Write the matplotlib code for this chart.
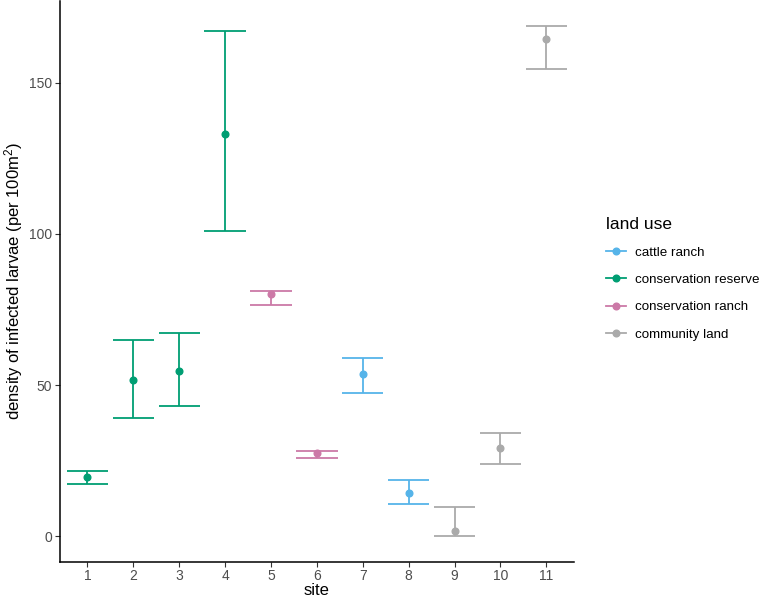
import matplotlib.pyplot as plt
from matplotlib.lines import Line2D

plt.rcParams['font.family'] = ['Liberation Sans', 'DejaVu Sans']
plt.rcParams['mathtext.fontset'] = 'custom'
plt.rcParams['mathtext.rm'] = 'Liberation Sans'
plt.rcParams['mathtext.it'] = 'Liberation Sans:italic'

# data
sites = [1, 2, 3, 4, 5, 6, 7, 8, 9, 10, 11]
land_use = ['conservation reserve', 'conservation reserve', 'conservation reserve',
            'conservation reserve', 'conservation ranch', 'conservation ranch',
            'cattle ranch', 'cattle ranch', 'community land', 'community land',
            'community land']
density = [19.6, 51.5, 54.8, 133.0, 80.2, 27.5, 53.7, 14.3, 1.7, 29.0, 164.4]
upper = [21.5, 65.0, 67.1, 167.2, 81.2, 28.3, 59.0, 18.6, 9.7, 34.0, 168.7]
lower = [17.3, 39.0, 43.0, 100.9, 76.6, 26.0, 47.2, 10.5, 0.1, 23.9, 154.6]

groups = ['cattle ranch', 'conservation reserve', 'conservation ranch', 'community land']
colors = {'cattle ranch': '#56B4E9',
          'conservation reserve': '#009E73',
          'conservation ranch': '#CC79A7',
          'community land': '#AAAAAA'}

fig = plt.figure(figsize=(7.63, 5.99), dpi=100)
ax = fig.add_axes([0.0786, 0.0623, 0.752 - 0.0786, 0.999 - 0.0623])

for s, g, d, hi, lo in zip(sites, land_use, density, upper, lower):
    c = colors[g]
    ax.vlines(s, lo, hi, color=c, lw=1.3)
    ax.hlines([lo, hi], s - 0.45, s + 0.45, color=c, lw=1.3)
    ax.plot(s, d, 'o', color=c, ms=4.8, zorder=3)

ax.set_xlim(0.4, 11.6)
ax.set_ylim(-8.45, 177.2)
ax.set_xticks(sites)
ax.set_yticks([0, 50, 100, 150])

for side in ['top', 'right']:
    ax.spines[side].set_visible(False)
for side in ['left', 'bottom']:
    ax.spines[side].set_linewidth(1.1)
    ax.spines[side].set_color('black')
ax.tick_params(length=3.5, width=0.8, color='#333333', labelcolor='#4D4D4D',
               labelsize=10, pad=2)

ax.set_xlabel('site', fontsize=12, labelpad=0)
ax.set_ylabel(r'density of infected larvae (per 100m$^{2}$)', fontsize=12, labelpad=3)

handles = [Line2D([0], [0], color=colors[g], lw=1.3, marker='o', ms=4.8) for g in groups]
leg = fig.legend(handles, groups, loc='center left', bbox_to_anchor=(0.778, 0.535),
                 frameon=False, title='land use', title_fontsize=12.5, fontsize=9.6,
                 alignment='left', labelspacing=1.12, handlelength=1.5,
                 handletextpad=0.7)

fig.savefig('out.png', dpi=100)
